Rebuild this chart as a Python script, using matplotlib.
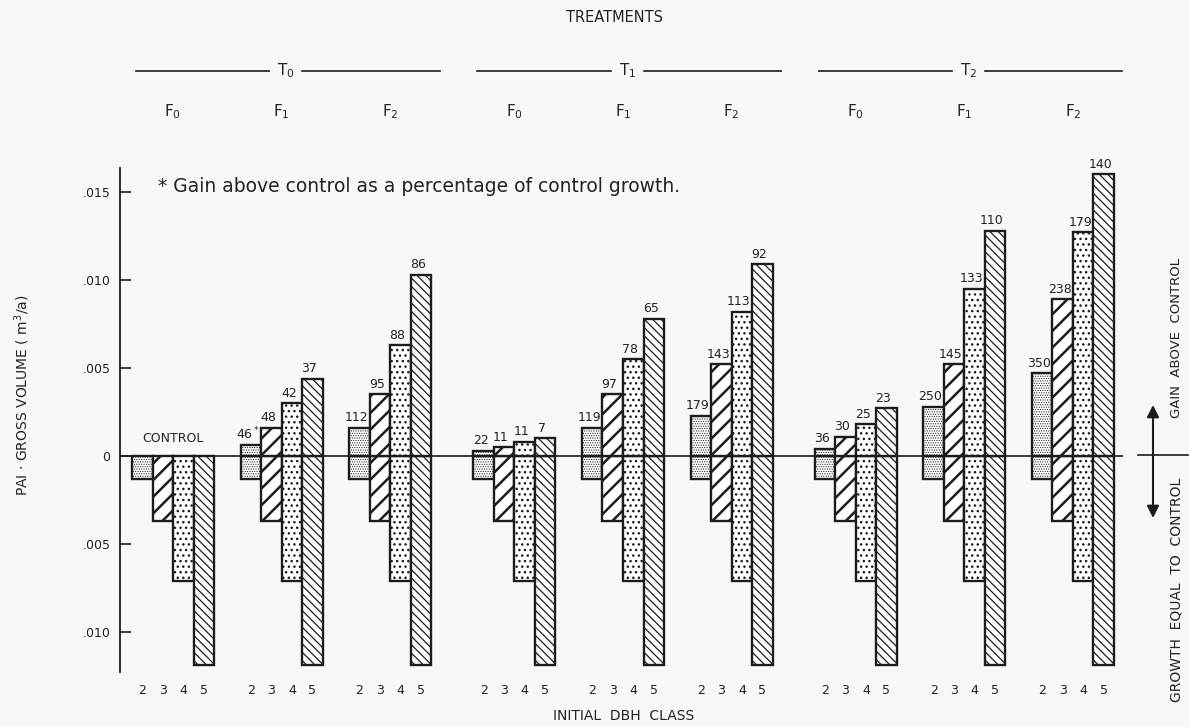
import matplotlib
matplotlib.use('Agg')
import matplotlib.pyplot as plt
from matplotlib.transforms import blended_transform_factory

W, H = 1189, 727

dbh_classes = ['2', '3', '4', '5']
treatments = ['T$_0$', 'T$_1$', 'T$_2$']
fert_levels = ['F$_0$', 'F$_1$', 'F$_2$']

# control growth (plotted downward), m3/a
control_growth = [0.0013, 0.0037, 0.0071, 0.0119]

# gain above control, m3/a, per DBH class 2..5
gain_t0f0 = [0, 0, 0, 0]
gain_t0f1 = [0.0006, 0.0016, 0.0030, 0.0044]
gain_t0f2 = [0.0016, 0.0035, 0.0063, 0.0103]
gain_t1f0 = [0.0003, 0.0005, 0.0008, 0.0010]
gain_t1f1 = [0.0016, 0.0035, 0.0055, 0.0078]
gain_t1f2 = [0.0023, 0.0052, 0.0082, 0.0109]
gain_t2f0 = [0.0004, 0.0011, 0.0018, 0.0027]
gain_t2f1 = [0.0028, 0.0052, 0.0095, 0.0128]
gain_t2f2 = [0.0047, 0.0089, 0.0127, 0.0160]

# gain as percentage of control growth
pct_t0f0 = ['', '', '', '']
pct_t0f1 = ['46$^*$', '48', '42', '37']
pct_t0f2 = ['112', '95', '88', '86']
pct_t1f0 = ['22', '11', '11', '7']
pct_t1f1 = ['119', '97', '78', '65']
pct_t1f2 = ['179', '143', '113', '92']
pct_t2f0 = ['36', '30', '25', '23']
pct_t2f1 = ['250', '145', '133', '110']
pct_t2f2 = ['350', '238', '179', '140']

gains = [gain_t0f0, gain_t0f1, gain_t0f2, gain_t1f0, gain_t1f1, gain_t1f2,
         gain_t2f0, gain_t2f1, gain_t2f2]
pcts = [pct_t0f0, pct_t0f1, pct_t0f2, pct_t1f0, pct_t1f1, pct_t1f2,
        pct_t2f0, pct_t2f1, pct_t2f2]

hatches = ['.......', '//', '...', '\\\\\\\\']
hatch_lw = [0.5, 1.8, 1.0, 0.9]
ink = '#1c1c1c'

# group centres: 4 bars per group, extra gap between treatments
step, t_gap = 5.3, 0.75
centers = [i * step + (i // 3) * t_gap for i in range(9)]

fig = plt.figure(figsize=(W / 100, H / 100), dpi=100, facecolor='#f8f8f6')
ax = fig.add_axes([120 / W, 1 - 672 / H, (1123 - 120) / W, (672 - 168) / H])
ax.set_facecolor('none')

xticks, xlabels = [], []
for g, c in enumerate(centers):
    for k in range(4):
        x = c + (k - 1.5)
        xticks.append(x)
        xlabels.append(dbh_classes[k])
        plt.rcParams['hatch.linewidth'] = hatch_lw[k]
        ax.bar(x, -control_growth[k], width=1.0, facecolor='white',
               edgecolor=ink, linewidth=1.7, hatch=hatches[k], zorder=2)
        if gains[g][k] > 0:
            ax.bar(x, gains[g][k], width=1.0, facecolor='white',
                   edgecolor=ink, linewidth=1.7, hatch=hatches[k], zorder=2)
            ax.text(x - 0.15, gains[g][k] + 0.0002, pcts[g][k], ha='center',
                    va='bottom', fontsize=9, color='#222')

ax.text(centers[0], 0.0010, 'CONTROL', ha='center', va='center',
        fontsize=9, color='#222')

ax.axhline(0, color=ink, lw=1.2, zorder=3)

ax.set_xlim(-53 / 20.5, centers[-1] + 50 / 20.5)
ax.set_ylim(-216 / 17.6 / 1000, 288 / 17.6 / 1000)

ax.set_yticks([-0.010, -0.005, 0, 0.005, 0.010, 0.015])
ax.set_yticklabels(['.010', '.005', '0', '.005', '.010', '.015'])
ax.tick_params(axis='y', direction='in', length=8, width=1.2, labelsize=9,
               pad=7, colors='#222')
ax.set_xticks(xticks)
ax.set_xticklabels(xlabels)
ax.tick_params(axis='x', length=0, labelsize=9, pad=9, colors='#222')

for s in ['top', 'right', 'bottom']:
    ax.spines[s].set_visible(False)
ax.spines['left'].set_linewidth(1.3)
ax.spines['left'].set_color(ink)

# header: treatments and fertiliser levels
tr = blended_transform_factory(ax.transData, fig.transFigure)
fig.text(615 / W, 1 - 18 / H, 'TREATMENTS', ha='center', va='center',
         fontsize=10.5, color='#222')
y_line = 1 - 71 / H
for t in range(3):
    c0, c1, c2 = centers[3 * t], centers[3 * t + 1], centers[3 * t + 2]
    ax.plot([c0 - 1.8, c1 - 0.6], [y_line, y_line], transform=tr, color=ink,
            lw=1.2, clip_on=False)
    ax.plot([c1 + 1.0, c2 + 2.4], [y_line, y_line], transform=tr, color=ink,
            lw=1.2, clip_on=False)
    ax.text(c1 + 0.2, y_line, treatments[t], transform=tr, ha='center',
            va='center', fontsize=11, color='#222')
    for f in range(3):
        ax.text(centers[3 * t + f], 1 - 112 / H, fert_levels[f], transform=tr,
                ha='center', va='center', fontsize=11, color='#222')

fig.text(158 / W, 1 - 187 / H, '* Gain above control as a percentage of control growth.',
         fontsize=13.5, va='center', color='#222')

fig.text(22 / W, 1 - 395 / H, 'PAI · GROSS VOLUME ( m$^3$/a)', rotation=90,
         ha='center', va='center', fontsize=10, color='#222')
fig.text(624 / W, 1 - 716 / H, 'INITIAL  DBH  CLASS', ha='center', va='center',
         fontsize=10, color='#222')

# right-hand legend arrows
y0 = 1 - 455 / H
ax.plot([1138 / W, 1188 / W], [y0, y0], transform=fig.transFigure, color=ink,
        lw=1.2, clip_on=False)
for ytip in [1 - 405 / H, 1 - 518 / H]:
    ax.annotate('', xy=(1153 / W, ytip), xytext=(1153 / W, y0),
                xycoords='figure fraction', textcoords='figure fraction',
                arrowprops=dict(arrowstyle='-|>', color=ink, lw=1.5,
                                mutation_scale=18, shrinkA=0, shrinkB=0))
fig.text(1176 / W, 1 - 338 / H, 'GAIN  ABOVE  CONTROL', rotation=90,
         ha='center', va='center', fontsize=9.5, color='#222')
fig.text(1176 / W, 1 - 590 / H, 'GROWTH  EQUAL  TO  CONTROL', rotation=90,
         ha='center', va='center', fontsize=10, color='#222')

fig.savefig('out.png', dpi=100, facecolor=fig.get_facecolor())
